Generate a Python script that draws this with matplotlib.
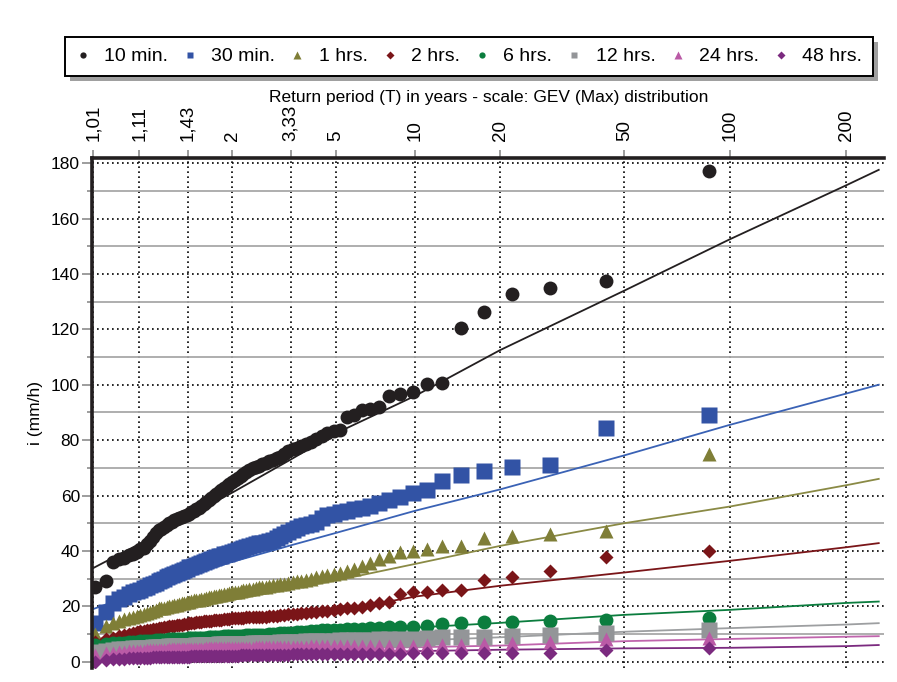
import numpy as np
import matplotlib
matplotlib.use("Agg")
import matplotlib.pyplot as plt
from matplotlib.patches import Rectangle
from matplotlib.ticker import FixedLocator, MultipleLocator

plt.rcParams['font.family'] = ['Liberation Sans', 'DejaVu Sans']

# observed intensities (mm/h), sorted ascending, one value per year of record
i_10min = [27, 29, 36, 37, 37.5, 38.5, 39, 39.5, 40.5, 41,
           42.5, 43.5, 45, 46.5, 47.5, 48, 48.5, 49.5, 50, 50.5,
           51, 51.5, 52, 52.2, 52.5, 53, 53.5, 54, 54.5, 55,
           55.5, 56.3, 57, 57.7, 58.4, 59, 59.7, 60.5, 61.2, 62,
           62.7, 63.5, 64.2, 65, 65.6, 66.3, 67, 67.8, 68.5, 69.2,
           69.8, 70.3, 70.8, 71.3, 71.8, 72.3, 72.8, 73.4, 74, 75,
           76, 76.7, 77.3, 78, 78.7, 79.5, 80.5, 81.5, 82.5, 83.2,
           83.7, 88.3, 89, 91, 91.3, 92, 96, 96.7, 97.5, 100.3,
           100.5, 120.6, 126.2, 132.7, 134.8, 137.5, 177.2]
i_30min = [14, 18, 21, 22.5, 23.5, 24.5, 25, 25.5, 26, 26.5,
           27, 27.5, 28, 28.5, 29, 29.5, 30, 30.5, 31, 31.3,
           31.7, 32, 32.4, 32.8, 33.2, 33.6, 34, 34.3, 34.6, 35,
           35.4, 35.7, 36, 36.3, 36.7, 37, 37.3, 37.7, 38, 38.3,
           38.7, 39, 39.4, 39.7, 40, 40.4, 40.8, 41.2, 41.5, 41.8,
           42.1, 42.4, 42.7, 43, 43.3, 43.6, 44, 44.8, 45.5, 46.1,
           46.7, 47.4, 48.2, 48.9, 49.3, 49.8, 50.6, 51.8, 53, 53.5,
           54, 54.5, 55, 55.6, 56.3, 57.2, 58.5, 59.6, 61, 62,
           65.4, 67.4, 69, 70.4, 71, 84.5, 89.1]
i_1h = [10, 13, 14, 14.7, 15.3, 15.8, 16.2, 16.6, 17, 17.3,
        17.6, 17.9, 18.2, 18.5, 19.2, 19.3, 19.4, 19.7, 20, 20.2,
        20.3, 20.6, 20.7, 21, 21.3, 21.4, 21.5, 21.8, 22.1, 22.2,
        22.4, 22.5, 22.8, 23, 23.2, 23.3, 23.6, 23.8, 24, 24.1,
        24.4, 24.6, 24.7, 25, 25.2, 25.3, 25.6, 25.8, 25.9, 26.2,
        26.4, 26.5, 26.8, 27, 27.1, 27.4, 27.6, 27.8, 27.9, 28.2,
        28.5, 28.7, 29, 29.3, 29.6, 30, 30.4, 30.8, 31.2, 31.6,
        32, 32.8, 33.6, 34.5, 35.5, 37, 38, 39.5, 39.8, 40.8,
        41.8, 41.9, 44.8, 45.4, 46.1, 47.3, 75]
i_2h = [7, 8, 8.7, 9.2, 9.6, 10, 10.3, 10.6, 10.9, 11.1,
        11.3, 11.5, 11.7, 11.9, 12.1, 12.2, 12.4, 12.5, 12.7, 12.8,
        13, 13.1, 13.3, 13.4, 13.5, 13.7, 13.8, 13.9, 14, 14.2,
        14.3, 14.4, 14.5, 14.6, 14.7, 14.8, 14.9, 15, 15.1, 15.2,
        15.3, 15.4, 15.5, 15.6, 15.7, 15.8, 15.9, 15.9, 16, 16,
        16.1, 16.1, 16.2, 16.2, 16.3, 16.4, 16.5, 16.6, 16.8, 17,
        17.1, 17.2, 17.3, 17.4, 17.6, 17.8, 18, 18.2, 18.4, 18.7,
        18.9, 19.2, 19.5, 19.8, 20.5, 21.1, 21.7, 24.5, 25, 25.1,
        25.9, 26, 29.5, 30.7, 32.9, 37.9, 40]
i_6h = [6, 6.5, 6.7, 6.8, 6.9, 7, 7.1, 7.2, 7.3, 7.4,
        7.5, 7.5, 7.6, 7.7, 7.7, 7.8, 7.8, 7.9, 8, 8,
        8.1, 8.1, 8.2, 8.2, 8.3, 8.3, 8.4, 8.4, 8.5, 8.5,
        8.6, 8.6, 8.7, 8.7, 8.8, 8.8, 8.9, 8.9, 9, 9,
        9.1, 9.1, 9.2, 9.2, 9.3, 9.3, 9.4, 9.4, 9.5, 9.5,
        9.6, 9.6, 9.7, 9.7, 9.8, 9.9, 10, 10.1, 10.2, 10.3,
        10.4, 10.5, 10.6, 10.7, 10.8, 11, 11.2, 11.3, 11.4, 11.4,
        11.5, 11.7, 11.8, 11.9, 12, 12.2, 12.4, 12.4, 12.5, 13,
        13.6, 13.8, 14.2, 14.4, 14.5, 15.2, 15.8]
i_12h = [3.5, 4, 4.2, 4.4, 4.6, 4.7, 4.8, 4.9, 5, 5,
         5.1, 5.1, 5.2, 5.2, 5.3, 5.3, 5.4, 5.4, 5.5, 5.5,
         5.5, 5.6, 5.6, 5.7, 5.7, 5.7, 5.8, 5.8, 5.8, 5.9,
         5.9, 5.9, 6, 6, 6, 6.1, 6.1, 6.1, 6.2, 6.2,
         6.2, 6.3, 6.3, 6.3, 6.4, 6.4, 6.4, 6.5, 6.5, 6.5,
         6.6, 6.6, 6.7, 6.7, 6.8, 6.8, 6.9, 6.9, 7, 7,
         7.1, 7.1, 7.2, 7.2, 7.3, 7.3, 7.4, 7.4, 7.5, 7.6,
         7.7, 7.7, 7.8, 7.8, 7.9, 8, 8.1, 8.2, 8.3, 8.5,
         8.8, 9, 9, 9.1, 9.6, 10.5, 11.4]
i_24h = [2.5, 3, 3.3, 3.5, 3.6, 3.7, 3.8, 3.9, 4, 4,
         4.1, 4.1, 4.2, 4.2, 4.2, 4.3, 4.3, 4.3, 4.4, 4.4,
         4.4, 4.5, 4.5, 4.5, 4.5, 4.6, 4.6, 4.6, 4.6, 4.7,
         4.7, 4.7, 4.7, 4.8, 4.8, 4.8, 4.8, 4.9, 4.9, 4.9,
         4.9, 5, 5, 5, 5, 5, 5.1, 5.1, 5.1, 5.1,
         5.1, 5.2, 5.2, 5.2, 5.2, 5.2, 5.3, 5.3, 5.3, 5.3,
         5.3, 5.4, 5.4, 5.4, 5.4, 5.5, 5.5, 5.5, 5.5, 5.5,
         5.6, 5.6, 5.6, 5.6, 5.7, 5.7, 5.7, 5.8, 5.8, 5.9,
         5.9, 6, 6.4, 6.8, 7, 8, 8.4]
i_48h = [0, 0.5, 0.8, 1, 1.1, 1.2, 1.2, 1.3, 1.3, 1.4,
         1.4, 1.4, 1.5, 1.5, 1.5, 1.6, 1.6, 1.6, 1.6, 1.7,
         1.7, 1.7, 1.7, 1.8, 1.8, 1.8, 1.8, 1.9, 1.9, 1.9,
         1.9, 2, 2, 2, 2, 2, 2.1, 2.1, 2.1, 2.1,
         2.1, 2.2, 2.2, 2.2, 2.2, 2.2, 2.3, 2.3, 2.3, 2.3,
         2.3, 2.4, 2.4, 2.4, 2.4, 2.4, 2.5, 2.5, 2.5, 2.5,
         2.5, 2.6, 2.6, 2.6, 2.6, 2.6, 2.7, 2.7, 2.7, 2.7,
         2.7, 2.8, 2.8, 2.8, 2.8, 2.9, 2.9, 2.9, 3, 3,
         3, 3, 3, 3, 3, 4.2, 4.8]

# fitted GEV curves read at these return periods
T_fit = [1.01, 1.11, 1.43, 2, 3.33, 5, 10, 20, 50, 100, 200, 240]
fit_10min = [33.8, 42.5, 52.5, 61, 73, 82.5, 96, 112.5, 134, 152.5, 172, 177.6]
fit_30min = [19, 25, 31, 36, 42, 46.5, 54.5, 62.2, 74.5, 85.5, 96.8, 100]
fit_1h = [12, 15.5, 19.3, 22.3, 26.3, 29.3, 35.3, 41.8, 50, 56, 63.7, 66]
fit_2h = [8, 10, 12, 13.8, 16.2, 18.2, 23.5, 27.4, 32.2, 36.4, 41.3, 42.8]
fit_6h = [6.8, 7.5, 8.3, 9, 10, 10.8, 12.3, 14, 16.9, 18.7, 21.2, 21.7]
fit_12h = [4.3, 5, 5.6, 6.1, 6.7, 7.1, 7.6, 8.8, 10.8, 12.1, 13.4, 13.9]
fit_24h = [3, 3.5, 3.9, 4.2, 4.6, 4.9, 5.2, 5.8, 7.4, 8.2, 9, 9.2]
fit_48h = [1, 1.5, 2, 2.4, 2.9, 3.2, 3.8, 4.3, 4.8, 5, 5.6, 6.0]

labels = ["10 min.", "30 min.", "1 hrs.", "2 hrs.", "6 hrs.", "12 hrs.", "24 hrs.", "48 hrs."]
tick_T = [1.01, 1.11, 1.43, 2, 3.33, 5, 10, 20, 50, 100, 200]
tick_labels = ["1,01", "1,11", "1,43", "2", "3,33", "5", "10", "20", "50", "100", "200"]

obs = [i_10min, i_30min, i_1h, i_2h, i_6h, i_12h, i_24h, i_48h]
fits = [fit_10min, fit_30min, fit_1h, fit_2h, fit_6h, fit_12h, fit_24h, fit_48h]
colors = ["#231f20", "#3253a5", "#7f7e37", "#7a1518", "#0b7d3e", "#939598", "#ba5aa6", "#7b2a7f"]
line_colors = ["#231f20", "#3a62b5", "#8a8a45", "#7a1518", "#0b7d3e", "#9d9fa1", "#c065ad", "#7b2a7f"]
markers = ["o", "s", "^", "D", "o", "s", "^", "D"]
msizes = [10, 11.5, 10.5, 7.3, 10, 11.5, 10.5, 7.3]
leg_sizes = [4.5, 4.8, 5.5, 3.6, 4.5, 4.8, 5.5, 3.6]

K = -0.15  # GEV shape of the probability paper


def gev_forward(T):
    T = np.asarray(T, dtype=float)
    with np.errstate(all="ignore"):
        w = -np.log(1.0 - 1.0 / np.clip(T, 1.0000001, None))
        return (1.0 - w ** K) / K


def gev_inverse(y):
    y = np.asarray(y, dtype=float)
    with np.errstate(all="ignore"):
        w = np.clip(1.0 - K * y, 1e-9, None) ** (1.0 / K)
        return 1.0 / (1.0 - np.exp(-w))


fig = plt.figure(figsize=(8.97, 6.82), dpi=100)
ax = fig.add_axes([0.1031, 0.0205, 0.8824, 0.7471])
ax.set_xscale("function", functions=(gev_forward, gev_inverse))

n = len(i_10min)
T_obs = (n + 1) / np.arange(n, 0, -1)

for k in range(len(obs)):
    ax.plot(T_fit, fits[k], color=line_colors[k], lw=1.3, zorder=3)
for k in range(len(obs)):
    ax.plot(T_obs, obs[k], linestyle="none", marker=markers[k], ms=msizes[k],
            color=colors[k], mec="none", zorder=4 + k)

ax.set_xlim(gev_inverse(-1.376), gev_inverse(8.563))
ax.set_ylim(-2.3, 181.7)

ax.xaxis.set_ticks_position("top")
ax.xaxis.set_label_position("top")
ax.set_xticks(tick_T)
ax.set_xticklabels(tick_labels, rotation=90, fontsize=13.5)
ax.xaxis.set_minor_locator(FixedLocator([]))
ax.set_xlabel("Return period (T) in years - scale: GEV (Max) distribution", fontsize=12.5, labelpad=2)

ax.yaxis.set_major_locator(MultipleLocator(20))
ax.yaxis.set_minor_locator(MultipleLocator(10))
ax.tick_params(axis="y", which="major", labelsize=12.5, length=7, width=1.2, color="#8c8c8c", pad=2)
ax.tick_params(axis="y", which="minor", length=3.5, width=1.2, color="#8c8c8c")
ax.tick_params(axis="x", which="major", length=6, width=1.2, color="#8c8c8c", pad=6.5)
ax.set_ylabel("i (mm/h)", fontsize=12.5, labelpad=6)

ax.yaxis.grid(True, which="major", color="k", linestyle=(0, (1, 2)), lw=1.2)
ax.yaxis.grid(True, which="minor", color="#a8a8a8", linestyle="-", lw=1.3)
ax.xaxis.grid(True, which="major", color="k", linestyle=(0, (1, 2)), lw=1.2)
ax.set_axisbelow(True)

for side in ["right", "bottom"]:
    ax.spines[side].set_visible(False)
for side in ["left", "top"]:
    ax.spines[side].set_linewidth(2.6)
    ax.spines[side].set_color("#231f20")
    ax.spines[side].set_zorder(20)

handles = [plt.Line2D([], [], linestyle="none", marker=markers[k], ms=leg_sizes[k],
                      color=colors[k], mec="none") for k in range(len(obs))]
leg = fig.legend(handles, labels, loc="center", bbox_to_anchor=(0.523, 0.917), ncol=8,
                 fontsize=14, frameon=True, fancybox=False, edgecolor="k", framealpha=1,
                 handlelength=0.7, handletextpad=0.75, columnspacing=0.78, borderpad=0.55)
leg.get_frame().set_linewidth(1.4)
leg.set_zorder(10)

fig.canvas.draw()
bb = leg.get_window_extent().transformed(fig.transFigure.inverted())
dx, dy = 5 / 897, 5 / 682
fig.patches.append(Rectangle((bb.x0 + dx, bb.y0 - dy), bb.width, bb.height,
                             transform=fig.transFigure, facecolor="#a0a0a0",
                             edgecolor="none", zorder=9))

fig.savefig("out.png", dpi=100)
